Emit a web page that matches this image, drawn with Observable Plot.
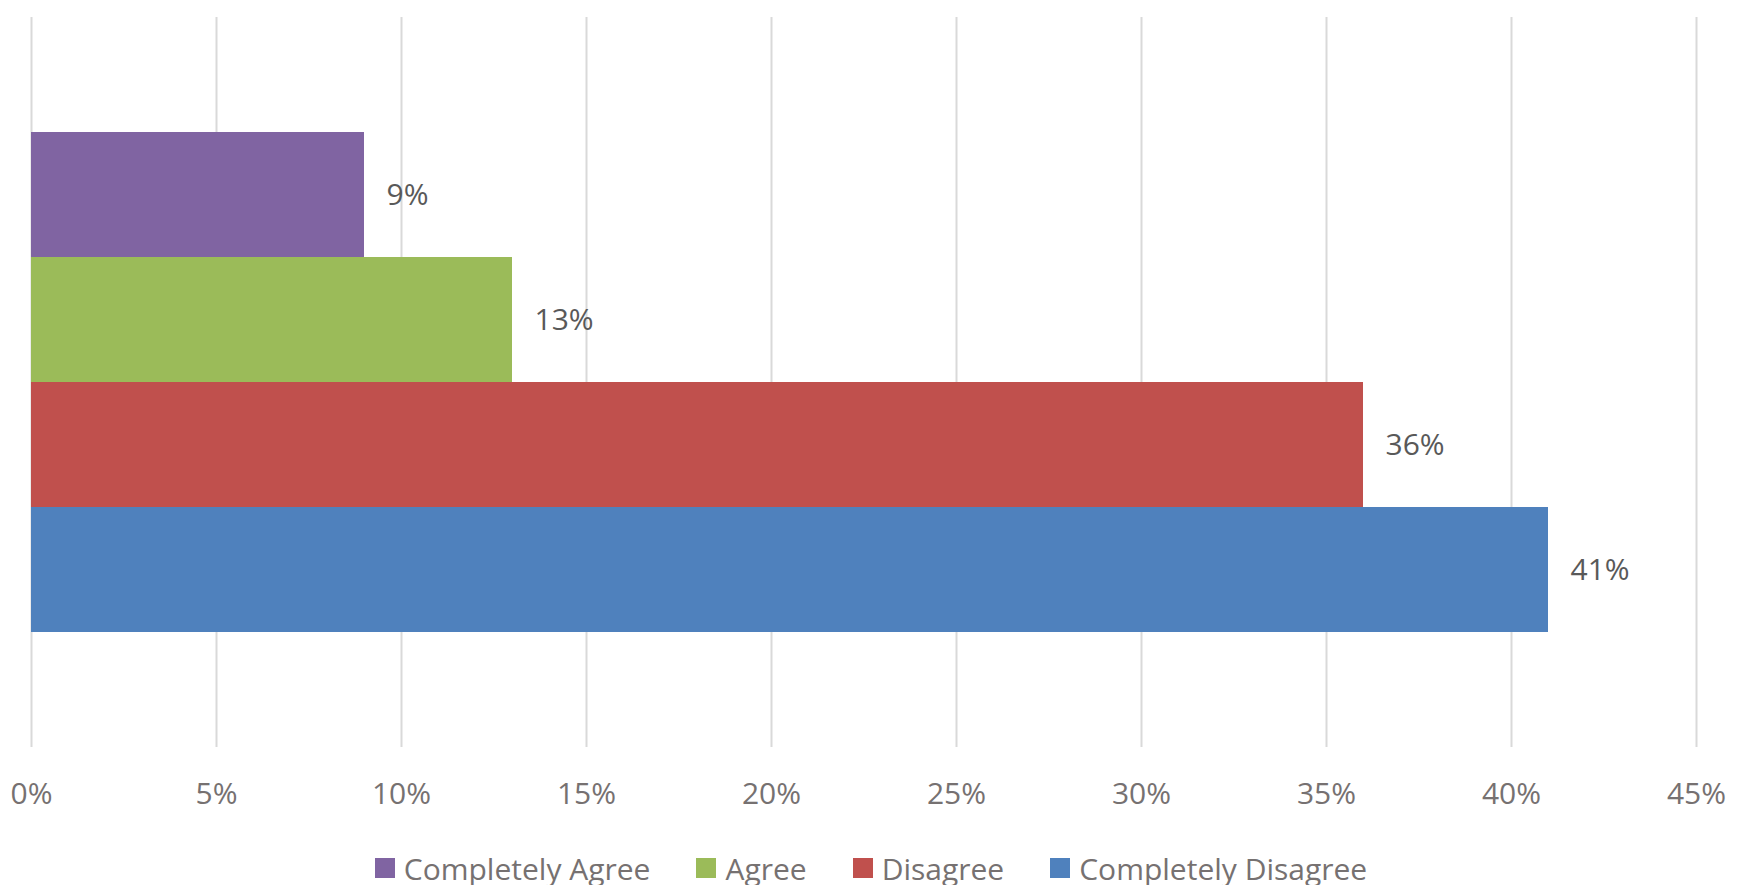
<!DOCTYPE html>
<html>
<head>
<meta charset="utf-8">
<script src="https://cdn.jsdelivr.net/npm/d3@7"></script>
<script src="https://cdn.jsdelivr.net/npm/@observablehq/plot@0.6"></script>
<style>
  html, body { margin: 0; padding: 0; background: #fff; }
  #chart svg { display: block; }
  #legend {
    display: flex; justify-content: center; align-items: center;
    margin-top: 21px; height: 34px;
    font-family: "Open Sans", sans-serif; font-size: 30px; color: #767171;
  }
  #legend .item { display: flex; align-items: center; margin: 0 23px; }
  #legend .sw { width: 20px; height: 20px; margin-right: 9px; }
</style>
</head>
<body>
<div id="chart"></div>
<div id="legend"></div>
<script>
const categories = ["Completely Agree", "Agree", "Disagree", "Completely Disagree"];
const values = [9, 13, 36, 41];
const colors = ["#8064A2", "#9BBB59", "#C0504D", "#4F81BD"];
const xTicks = [0, 5, 10, 15, 20, 25, 30, 35, 40, 45];

const data = categories.map((c, i) => ({category: c, value: values[i], color: colors[i]}));

const chart = Plot.plot({
  width: 1742,
  height: 830,
  marginTop: 17,
  marginBottom: 83,
  marginLeft: 31,
  marginRight: 46,
  style: {fontFamily: "'Open Sans', sans-serif", background: "#fff", overflow: "visible"},
  x: {domain: [0, 45], ticks: xTicks, label: null},
  y: {domain: categories, paddingInner: 0, paddingOuter: 0.908, axis: null},
  marks: [
    Plot.ruleX(xTicks, {stroke: "#d9d9d9", strokeWidth: 2}),
    Plot.barX(data, {x: "value", y: "category", fill: "color"}),
    Plot.text(data, {x: "value", y: "category", text: d => d.value + "%", dx: 22, textAnchor: "start", fontSize: 30, fill: "#595959"}),
    Plot.axisX({ticks: xTicks, tickFormat: d => d + "%", tickSize: 0, tickPadding: 35, fontSize: 30, color: "#767171", stroke: "none", label: null})
  ]
});
document.getElementById("chart").appendChild(chart);

const legend = document.getElementById("legend");
categories.forEach((c, i) => {
  const item = document.createElement("div");
  item.className = "item";
  const sw = document.createElement("div");
  sw.className = "sw";
  sw.style.background = colors[i];
  const t = document.createElement("span");
  t.textContent = c;
  item.appendChild(sw);
  item.appendChild(t);
  legend.appendChild(item);
});
</script>
</body>
</html>
